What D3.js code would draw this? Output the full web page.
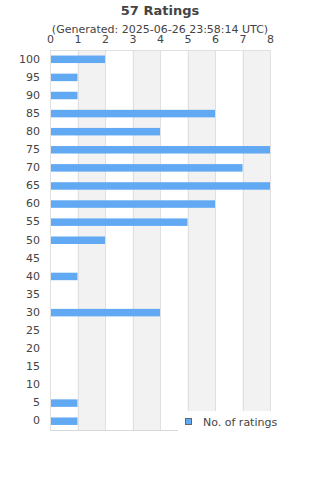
<!DOCTYPE html>
<html>
<head>
<meta charset="utf-8">
<script src="https://cdn.jsdelivr.net/npm/d3@7"></script>
<style>
  body { margin: 0; background: #fff; }
  text { font-family: "DejaVu Sans", sans-serif; fill: #444; }
</style>
</head>
<body>
<svg id="chart" width="320" height="480"></svg>
<script>
// ratings histogram, top row is 100
var categories = ["100","95","90","85","80","75","70","65","60","55","50","45","40","35","30","25","20","15","10","5","0"];
var counts = [2,1,1,6,4,8,7,8,6,5,2,0,1,0,4,0,0,0,0,1,1];
var xTicks = [0,1,2,3,4,5,6,7,8];
var titleText = "57 Ratings";
var subText = "(Generated: 2025-06-26 23:58:14 UTC)";
var seriesName = "No. of ratings";

var svg = d3.select("#chart");
// note: "top" is taken by window.top, so use plot* names
var plotL = 50, plotR = 270, plotT = 50, plotB = 430;

var x = d3.scaleLinear().domain([0, 8]).range([plotL, plotR]);
var y = d3.scaleBand().domain(categories).range([plotT, plotB]);

// alternating bands
svg.append("g").selectAll("rect")
  .data(xTicks.slice(0, -1).filter(function(d){ return d % 2 == 1; }))
  .enter().append("rect")
  .attr("x", function(d){ return x(d); })
  .attr("y", plotT)
  .attr("width", function(d){ return x(d+1) - x(d); })
  .attr("height", plotB - plotT)
  .attr("fill", "#f2f2f2");

// grid lines
svg.append("g").selectAll("line")
  .data(xTicks)
  .enter().append("line")
  .attr("x1", function(d){ return Math.round(x(d)) + 0.5; })
  .attr("x2", function(d){ return Math.round(x(d)) + 0.5; })
  .attr("y1", plotT).attr("y2", plotB)
  .attr("stroke", "#e0e0e0");

svg.append("line")
  .attr("x1", plotL).attr("x2", plotR)
  .attr("y1", plotT + 0.5).attr("y2", plotT + 0.5)
  .attr("stroke", "#e0e0e0");
svg.append("line")
  .attr("x1", plotL).attr("x2", plotR)
  .attr("y1", plotB + 0.5).attr("y2", plotB + 0.5)
  .attr("stroke", "#d8d8d8");

// bars
svg.append("g").selectAll("rect")
  .data(categories)
  .enter().append("rect")
  .attr("x", x(0) + 1)
  .attr("y", function(d){ return y(d) + y.bandwidth()/2 - 3.5; })
  .attr("width", function(d, i){ return Math.max(0, x(counts[i]) - x(0) - 1); })
  .attr("height", 7.5)
  .attr("fill", "#62a9f3");

// axes
var xAxis = svg.append("g")
  .attr("transform", "translate(0," + (plotT - 7) + ")")
  .call(d3.axisTop(x).tickValues(xTicks).tickSize(0).tickPadding(0));
xAxis.select(".domain").remove();
xAxis.selectAll("text").style("font-size", "11px").attr("fill", "#444");

var yAxis = svg.append("g")
  .attr("transform", "translate(" + (plotL - 10) + ",0)")
  .call(d3.axisLeft(y).tickSize(0).tickPadding(0));
yAxis.select(".domain").remove();
yAxis.selectAll("text").style("font-size", "11px").attr("fill", "#444");

// titles
svg.append("text")
  .attr("x", 160).attr("y", 15)
  .attr("text-anchor", "middle")
  .style("font-size", "13px").style("font-weight", "bold")
  .text(titleText);
svg.append("text")
  .attr("x", 160).attr("y", 33)
  .attr("text-anchor", "middle")
  .style("font-size", "11px")
  .text(subText);

// legend box covers lower right corner
var legend = svg.append("g");
legend.append("rect")
  .attr("x", 178).attr("y", 411)
  .attr("width", 142).attr("height", 30)
  .attr("fill", "#fff");
legend.append("rect")
  .attr("x", 185.5).attr("y", 418.5)
  .attr("width", 6).attr("height", 6)
  .attr("fill", "#62a9f3").attr("stroke", "#666");
legend.append("text")
  .attr("x", 203).attr("y", 426)
  .style("font-size", "11px")
  .text(seriesName);
</script>
</body>
</html>
